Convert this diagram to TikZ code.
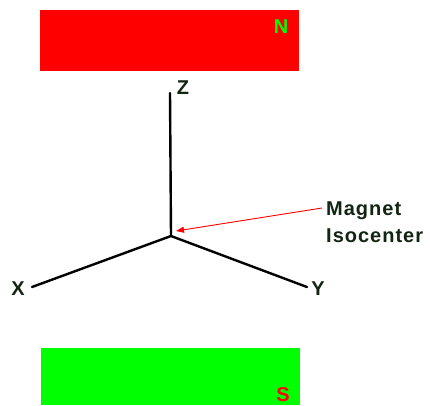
\documentclass[tikz,border=0pt]{standalone}
\usepackage{fontspec}
\newfontfamily\lblfont[LetterSpace=5]{Liberation Sans}
\usetikzlibrary{arrows.meta}
\definecolor{magred}{RGB}{255,0,0}
\definecolor{maggreen}{RGB}{0,255,0}
\definecolor{inkdark}{RGB}{18,36,18}
\tikzset{
  lbl/.style={font=\lblfont\bfseries\fontsize{20}{27}\selectfont, text=inkdark, inner sep=0pt},
  pole/.style={font=\lblfont\bfseries\fontsize{20}{23}\selectfont, inner sep=0pt},
  axis/.style={line width=2.4pt, black, line cap=round},
  pointer/.style={magred, line width=0.9pt, -{Triangle[length=8pt,width=6pt]}}
}
\begin{document}
\begin{tikzpicture}[x=1pt,y=-1pt]
  \useasboundingbox (0,0) rectangle (430,405);
  % magnet poles
  \fill[magred] (40,10) rectangle (299,71);
  \fill[maggreen] (41,348) rectangle (300,405);
  \node[pole, text=maggreen] (north) at (281,27) {N};
  \node[pole, text=magred] (south) at (283,395) {S};
  % axes
  \coordinate (o) at (171,236);
  \coordinate (zend) at (170,93);
  \coordinate (xend) at (32,287);
  \coordinate (yend) at (307,287);
  \draw[axis] (o) -- (zend);
  \draw[axis] (o) -- (xend);
  \draw[axis] (o) -- (yend);
  \node[lbl] (zl) at (183,88) {Z};
  \node[lbl] (xl) at (18,289) {X};
  \node[lbl] (yl) at (318,289) {Y};
  % isocenter label and pointer
  \node[lbl, anchor=west, align=left] (iso) at (326,222) {Magnet\\Isocenter};
  \coordinate (tip) at (176,231);
  \draw[pointer] (iso.west |- 0,208) ++(-4,0) -- (tip);
\end{tikzpicture}
\end{document}
